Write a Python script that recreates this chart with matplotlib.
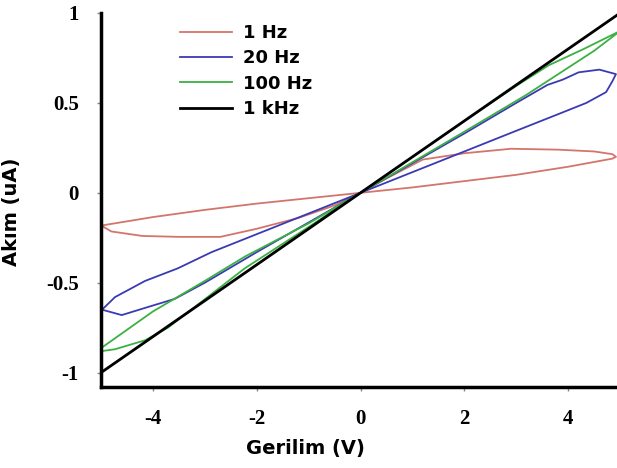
import numpy as np
import matplotlib
matplotlib.use('Agg')
import matplotlib.pyplot as plt

# ---------------- data ----------------
# 1 Hz loop
V_1HZ = [0, 0.5, 1.2, 2.0, 2.9, 3.8, 4.5, 4.85, 4.92, 4.85, 4.0, 3.0, 2.0, 1.0, 0,
         -1.0, -2.0, -3.0, -4.0, -4.95, -4.95, -4.8, -4.2, -3.5, -2.7, -2.0, -1.2, -0.5, 0]
I_1HZ = [0, 0.08, 0.185, 0.22, 0.245, 0.24, 0.23, 0.215, 0.2, 0.19, 0.145, 0.1, 0.065, 0.03, 0,
         -0.03, -0.06, -0.095, -0.135, -0.18, -0.19, -0.215, -0.24, -0.245, -0.245, -0.2, -0.14, -0.07, 0]

# 20 Hz loop
V_20HZ = [0, 1.0, 2.0, 3.0, 3.6, 3.9, 4.2, 4.6, 4.92, 4.85, 4.73, 4.35, 3.83, 3.0, 2.0, 1.0, 0,
          -1.0, -2.0, -2.87, -3.52, -4.15, -4.73, -4.98, -4.6, -4.15, -3.58, -3.0, -2.0, -1.0, 0]
I_20HZ = [0, 0.165, 0.33, 0.5, 0.6, 0.63, 0.67, 0.685, 0.66, 0.62, 0.56, 0.5, 0.44, 0.345, 0.23, 0.115, 0,
          -0.115, -0.23, -0.33, -0.42, -0.49, -0.58, -0.65, -0.68, -0.64, -0.59, -0.5, -0.33, -0.165, 0]

# 100 Hz loop
V_100HZ = [0, 1.0, 2.0, 3.0, 3.63, 4.3, 5.0, 4.5, 3.19, 2.0, 1.0, 0,
           -1.0, -2.23, -3.0, -4.0, -4.98, -4.98, -4.73, -4.15, -3.71, -2.23, -1.0, 0]
I_100HZ = [0, 0.2, 0.4, 0.595, 0.71, 0.8, 0.9, 0.79, 0.544, 0.34, 0.17, 0,
           -0.17, -0.355, -0.49, -0.66, -0.86, -0.88, -0.87, -0.82, -0.75, -0.42, -0.19, 0]

# 1 kHz
V_1KHZ = [-5, 0, 5]
I_1KHZ = [-1, 0, 1]

LABELS = ['1 Hz', '20 Hz', '100 Hz', '1 kHz']
X_TICKS = [-4, -2, 0, 2, 4]
Y_TICKS = [-1, -0.5, 0, 0.5, 1]
Y_TICKLABELS = ['-1', '-0.5', '0', '0.5', '1']

# ---------------- figure ----------------
fig = plt.figure(figsize=(6.17, 4.68), dpi=100)
ax = fig.add_axes([101/617, 1 - 387/468, 516/617, 374/468])

ax.plot(V_1HZ, I_1HZ, color='#d4756b', lw=1.3, label=LABELS[0])
ax.plot(V_20HZ, I_20HZ, color='#3a3ab4', lw=1.3, label=LABELS[1])
ax.plot(V_100HZ, I_100HZ, color='#3cb043', lw=1.3, label=LABELS[2])
ax.plot(V_1KHZ, I_1KHZ, color='black', lw=2.0, label=LABELS[3])

ax.set_xlim(-5, 4.94)
ax.set_ylim(-1.08, 1.0)

for s in ['top', 'right']:
    ax.spines[s].set_visible(False)
for s in ['left', 'bottom']:
    ax.spines[s].set_linewidth(2.5)

ax.set_xticks(X_TICKS)
ax.set_xticklabels([str(t) for t in X_TICKS])
ax.set_yticks(Y_TICKS)
ax.set_yticklabels(Y_TICKLABELS)
ax.tick_params(direction='out', length=3, width=1, color='#888888', pad=13)
for lab in ax.get_xticklabels() + ax.get_yticklabels():
    lab.set_fontfamily('Liberation Serif')
    lab.set_fontweight('bold')
    lab.set_fontsize(15)

ax.set_xlabel('Gerilim (V)', fontsize=14, fontweight='bold', family='DejaVu Sans')
ax.xaxis.set_label_coords(0.397, -0.14)
ax.set_ylabel('Akım (uA)', fontsize=14, fontweight='bold', family='DejaVu Sans')
ax.yaxis.set_label_coords(-0.155, 0.468)

leg = ax.legend(loc='upper left', bbox_to_anchor=(0.153, 0.97), frameon=False,
                prop={'family': 'DejaVu Sans', 'weight': 'bold', 'size': 13},
                handlelength=2.9, handletextpad=0.6, labelspacing=0.4,
                borderpad=0, borderaxespad=0)

fig.savefig('out.png', dpi=100)
